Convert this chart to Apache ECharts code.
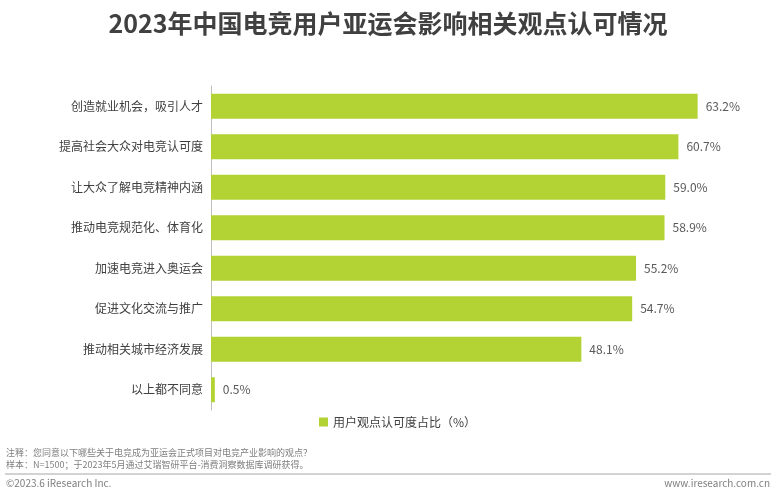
<!DOCTYPE html>
<html><head><meta charset="utf-8">
<script src="https://cdn.jsdelivr.net/npm/echarts@6/dist/echarts.min.js"></script>
<style>html,body{margin:0;padding:0;background:#fff}#c{width:776px;height:500px}</style>
</head><body><div id="c"></div>
<script>
const categories = ["创造就业机会，吸引人才","提高社会大众对电竞认可度","让大众了解电竞精神内涵","推动电竞规范化、体育化","加速电竞进入奥运会","促进文化交流与推广","推动相关城市经济发展","以上都不同意"];
const values = [63.2,60.7,59.0,58.9,55.2,54.7,48.1,0.5];
const seriesName = "用户观点认可度占比（%）";
const F = "'Noto Sans CJK SC','Noto Sans',sans-serif";
const chart = echarts.init(document.getElementById('c'));
chart.setOption({
  animation:false,
  title:{text:"2023年中国电竞用户亚运会影响相关观点认可情况",left:'center',top:6,
    textStyle:{fontFamily:F,fontSize:25,fontWeight:'bold',color:'#404040'}},
  legend:{data:[seriesName],left:314,top:411,itemWidth:9,itemHeight:9,itemGap:5,icon:'rect',
    textStyle:{fontFamily:F,fontSize:12,color:'#404040'}},
  grid:{left:211,right:26,top:86,bottom:90,containLabel:false},
  xAxis:{type:'value',min:0,max:70,show:false},
  yAxis:{type:'category',data:categories,inverse:true,
    axisLine:{show:true,lineStyle:{color:'#bfbfbf'}},axisTick:{show:false},
    axisLabel:{fontFamily:F,fontSize:12,color:'#404040',margin:8}},
  series:[{name:seriesName,type:'bar',data:values,barWidth:25,
    itemStyle:{color:'#b3d334'},
    label:{show:true,position:'right',distance:8,formatter:p=>p.value.toFixed(1)+'%',
      fontFamily:F,fontSize:12,color:'#595959'}}],
  graphic:[
    {type:'text',left:6,top:447,style:{text:"注释：您同意以下哪些关于电竞成为亚运会正式项目对电竞产业影响的观点？\n样本：N=1500；于2023年5月通过艾瑞智研平台-消费洞察数据库调研获得。",font:"9px "+F,fill:'#7f7f7f',lineHeight:12}},
    {type:'line',shape:{x1:5,y1:474,x2:771,y2:474},style:{stroke:'#a6a6a6',lineWidth:1}},
    {type:'text',left:6,top:478,style:{text:"©2023.6 iResearch Inc.",font:"10px "+F,fill:'#7f7f7f'}},
    {type:'text',right:6,top:478,style:{text:"www.iresearch.com.cn",font:"10px "+F,fill:'#7f7f7f'}}
  ]
});
</script></body></html>
